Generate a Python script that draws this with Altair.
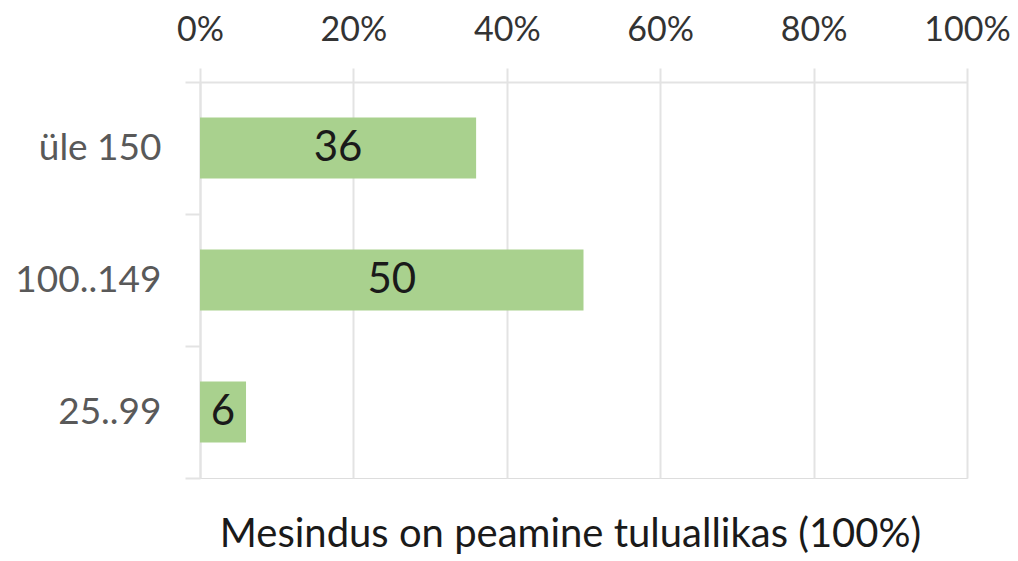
import altair as alt
import pandas as pd

categories = ["üle 150", "100..149", "25..99"]
values = [36, 50, 6]
tick_values = [0, 20, 40, 60, 80, 100]
title_text = "Mesindus on peamine tuluallikas (100%)"

df = pd.DataFrame({"cat": categories, "val": values})

FONT = "Lato"
GRID = "#e3e3e3"

y_enc = alt.Y(
    "cat:N",
    sort=categories,
    scale=alt.Scale(paddingInner=0, paddingOuter=0),
    axis=alt.Axis(
        title=None,
        tickBand="extent",
        domainColor=GRID,
        domainWidth=2,
        tickColor=GRID,
        tickWidth=2,
        tickSize=15,
        labelFont=FONT,
        labelFontSize=37,
        labelColor="#595959",
        labelPadding=24,
    ),
)

x_enc = alt.X(
    "val:Q",
    scale=alt.Scale(domain=[0, 100], nice=False),
    axis=alt.Axis(
        orient="top",
        title=None,
        values=tick_values,
        labelExpr="datum.value + '%'",
        domainColor=GRID,
        domainWidth=2,
        tickColor=GRID,
        tickWidth=2,
        tickSize=14,
        grid=True,
        gridColor=GRID,
        gridWidth=2,
        labelFont=FONT,
        labelFontSize=34,
        labelColor="#333333",
        labelPadding=21,
        labelFlush=False,
    ),
)

bars = alt.Chart(df).mark_bar(color="#a9d18e", height=61).encode(x=x_enc, y=y_enc)

labels = (
    alt.Chart(df)
    .transform_calculate(mid="datum.val / 2")
    .mark_text(font=FONT, fontSize=42, color="#1a1a1a", align="center", baseline="middle")
    .encode(x=alt.X("mid:Q"), y=alt.Y("cat:N", sort=categories), text="val:Q")
)

chart = (
    alt.layer(bars, labels)
    .properties(
        width=767,
        height=396,
        autosize=alt.AutoSizeParams(type="none"),
        padding={"left": 192, "top": 74, "right": 43, "bottom": 82},
        title=alt.TitleParams(
            text=title_text,
            orient="bottom",
            anchor="middle",
            font=FONT,
            fontSize=40,
            fontWeight="normal",
            color="#1a1a1a",
            offset=36,
            dx=-13,
        ),
    )
    .configure_view(stroke=GRID, strokeWidth=2)
    .configure(background="white")
)

chart.save("out.html", embed_options={"renderer": "svg", "actions": False})
